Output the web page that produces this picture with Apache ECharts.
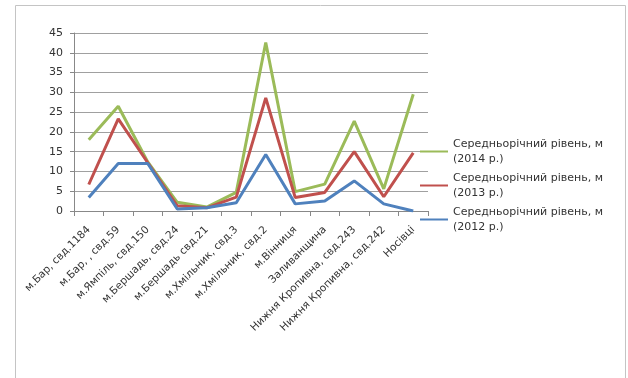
<!DOCTYPE html>
<html>
<head>
<meta charset="utf-8">
<script src="https://cdn.jsdelivr.net/npm/echarts@6/dist/echarts.min.js"></script>
<style>
  html, body { margin: 0; padding: 0; background: #fff; }
  #chart { width: 628px; height: 378px; }
</style>
</head>
<body>
<div id="chart"></div>
<script>
// категорії (пункти спостереження)
const categories = [
  'м.Бар, свд.1184', 'м.Бар, , свд.59', 'м.Ямпіль, свд.150', 'м.Бершадь, свд.24',
  'м.Бершадь свд.21', 'м.Хмільник, свд.3', 'м.Хмільник, свд.2', 'м.Вінниця',
  'Заливанщина', 'Нижня Кропивна, свд.243', 'Нижня Кропивна, свд.242', 'Носівці'
]
const level2014 = [18, 26.5, 12.4, 2.2, 1, 4.7, 42.6, 4.9, 6.8, 22.7, 5.6, 29.5]
const level2013 = [6.7, 23.3, 12.2, 1.3, 0.8, 3.5, 28.6, 3.4, 4.7, 15, 3.6, 14.7]
const level2012 = [3.4, 12, 12, 0.5, 0.8, 2.1, 14.3, 1.8, 2.5, 7.6, 1.8, 0]
const yTicks = [0, 45, 5] // min, max, interval

const font = 'DejaVu Sans'
const chart = echarts.init(document.getElementById('chart'))

const mkSeries = (name, data, color) => ({
  name: name,
  type: 'line',
  data: data,
  showSymbol: false,
  symbol: 'none',
  color: color,
  lineStyle: { width: 3, color: color },
  emphasis: { disabled: true }
})

const option = {
  animation: false,
  backgroundColor: '#fff',
  textStyle: { fontFamily: font },
  graphic: [{
    type: 'rect',
    shape: { x: 15.5, y: 5.5, width: 610, height: 380 },
    style: { fill: 'none', stroke: '#c4c4c4', lineWidth: 1 },
    z: -1
  }],
  grid: { left: 74, right: 200, top: 33, bottom: 167 },
  legend: {
    orient: 'vertical',
    left: 420,
    top: 129,
    padding: 0,
    itemWidth: 28,
    itemHeight: 2,
    itemGap: -11,
    icon: 'rect',
    data: ['Середньорічний рівень, м (2014 р.)', 'Середньорічний рівень, м (2013 р.)', 'Середньорічний рівень, м (2012 р.)'],
    formatter: function (name) {
      return name.replace(' (', '\n(')
    },
    textStyle: {
      fontFamily: font,
      fontSize: 11,
      color: '#333',
      lineHeight: 15,
      padding: [15, 0, 0, 0]
    }
  },
  xAxis: {
    type: 'category',
    data: categories,
    boundaryGap: true,
    axisLine: { lineStyle: { color: '#888' } },
    axisTick: { show: true, length: 5, lineStyle: { color: '#888' } },
    axisLabel: { interval: 0, rotate: 45, fontSize: 10.5, color: '#333', margin: 17, fontFamily: font }
  },
  yAxis: {
    type: 'value',
    min: yTicks[0],
    max: yTicks[1],
    interval: yTicks[2],
    axisLine: { show: true, lineStyle: { color: '#888' } },
    axisTick: { show: true, length: 4, lineStyle: { color: '#888' } },
    axisLabel: { fontSize: 11, color: '#333', margin: 11, fontFamily: font },
    splitLine: { lineStyle: { color: '#a0a0a0', width: 1 } }
  },
  series: [
    mkSeries('Середньорічний рівень, м (2014 р.)', level2014, '#9bbb59'),
    mkSeries('Середньорічний рівень, м (2013 р.)', level2013, '#c0504d'),
    mkSeries('Середньорічний рівень, м (2012 р.)', level2012, '#4f81bd')
  ]
}
chart.setOption(option)
</script>
</body>
</html>
